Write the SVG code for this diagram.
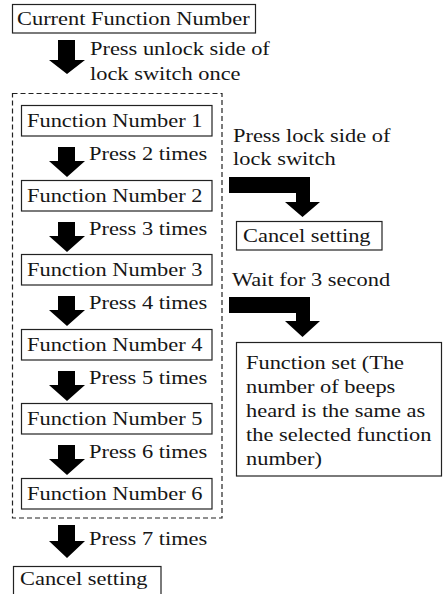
<svg xmlns="http://www.w3.org/2000/svg" width="443" height="594" viewBox="0 0 443 594">
<style>
.t{font-family:"Liberation Serif","Times New Roman",serif;font-size:19px;fill:#161616}
.box{fill:#fff;stroke:#222;stroke-width:1.2}
.dash{fill:none;stroke:#222;stroke-width:1.2;stroke-dasharray:5 3}
.arr{fill:#000}
</style>
<rect width="443" height="594" fill="#fff"/>
<g id="group-dashed"><rect class="dash" x="12.5" y="93.5" width="209.5" height="424.5"/></g>
<g id="connectors">
<path class="arr" d="M58 40H75V60H85L67 74L49 60H58Z"/>
<path class="arr" d="M58 147H75V161H85L67 177L49 161H58Z"/>
<path class="arr" d="M58 222H75V236H85L67 252L49 236H58Z"/>
<path class="arr" d="M58 296H75V310H85L67 326L49 310H58Z"/>
<path class="arr" d="M58 371H75V385H85L67 401L49 385H58Z"/>
<path class="arr" d="M58 445H75V459H85L67 475L49 459H58Z"/>
<path class="arr" d="M58 525H75V541H85L67 558L49 541H58Z"/>
<path class="arr" d="M229 177H310V202H320L302.5 217L285 202H296V193H229Z"/>
<path class="arr" d="M229 297H310V321H320L302.5 337L285 321H296V313H229Z"/>
</g>
<g id="labels">
<text class="t" transform="translate(90,55) scale(1.18,1)">Press unlock side of</text>
<text class="t" transform="translate(90,80) scale(1.18,1)">lock switch once</text>
<text class="t" transform="translate(89,160) scale(1.18,1)">Press 2 times</text>
<text class="t" transform="translate(89,235) scale(1.18,1)">Press 3 times</text>
<text class="t" transform="translate(89,309) scale(1.18,1)">Press 4 times</text>
<text class="t" transform="translate(89,384) scale(1.18,1)">Press 5 times</text>
<text class="t" transform="translate(89,458) scale(1.18,1)">Press 6 times</text>
<text class="t" transform="translate(89,545) scale(1.18,1)">Press 7 times</text>
<text class="t" transform="translate(233,142) scale(1.18,1)">Press lock side of</text>
<text class="t" transform="translate(233,165) scale(1.18,1)">lock switch</text>
<text class="t" transform="translate(232,286) scale(1.18,1)">Wait for 3 second</text>
</g>
<g id="current"><rect class="box" x="12.5" y="4.5" width="243" height="28.5"/><text class="t" transform="translate(17,25) scale(1.18,1)">Current Function Number</text></g>
<g id="fn1"><rect class="box" x="21.5" y="105.5" width="190.5" height="30.5"/><text class="t" transform="translate(27,127) scale(1.18,1)">Function Number 1</text></g>
<g id="fn2"><rect class="box" x="21.5" y="180.5" width="190.5" height="30.5"/><text class="t" transform="translate(27,202) scale(1.18,1)">Function Number 2</text></g>
<g id="fn3"><rect class="box" x="21.5" y="254.5" width="190.5" height="30.5"/><text class="t" transform="translate(27,276) scale(1.18,1)">Function Number 3</text></g>
<g id="fn4"><rect class="box" x="21.5" y="329.5" width="190.5" height="30.5"/><text class="t" transform="translate(27,351) scale(1.18,1)">Function Number 4</text></g>
<g id="fn5"><rect class="box" x="21.5" y="403.5" width="190.5" height="30.5"/><text class="t" transform="translate(27,425) scale(1.18,1)">Function Number 5</text></g>
<g id="fn6"><rect class="box" x="21.5" y="478.5" width="190.5" height="30.5"/><text class="t" transform="translate(27,500) scale(1.18,1)">Function Number 6</text></g>
<g id="cancel-right"><rect class="box" x="236.5" y="221.5" width="145.5" height="28.5"/><text class="t" transform="translate(243,242) scale(1.18,1)">Cancel setting</text></g>
<g id="function-set"><rect class="box" x="236.5" y="342.5" width="205" height="133.5"/>
<text class="t" transform="translate(246,369) scale(1.18,1)">Function set (The</text>
<text class="t" transform="translate(246,393) scale(1.18,1)">number of beeps</text>
<text class="t" transform="translate(246,417) scale(1.18,1)">heard is the same as</text>
<text class="t" transform="translate(246,441) scale(1.18,1)">the selected function</text>
<text class="t" transform="translate(246,465) scale(1.18,1)">number)</text></g>
<g id="cancel-bottom"><rect class="box" x="13.5" y="566.5" width="147.5" height="30"/><text class="t" transform="translate(20,585) scale(1.18,1)">Cancel setting</text></g>
</svg>
